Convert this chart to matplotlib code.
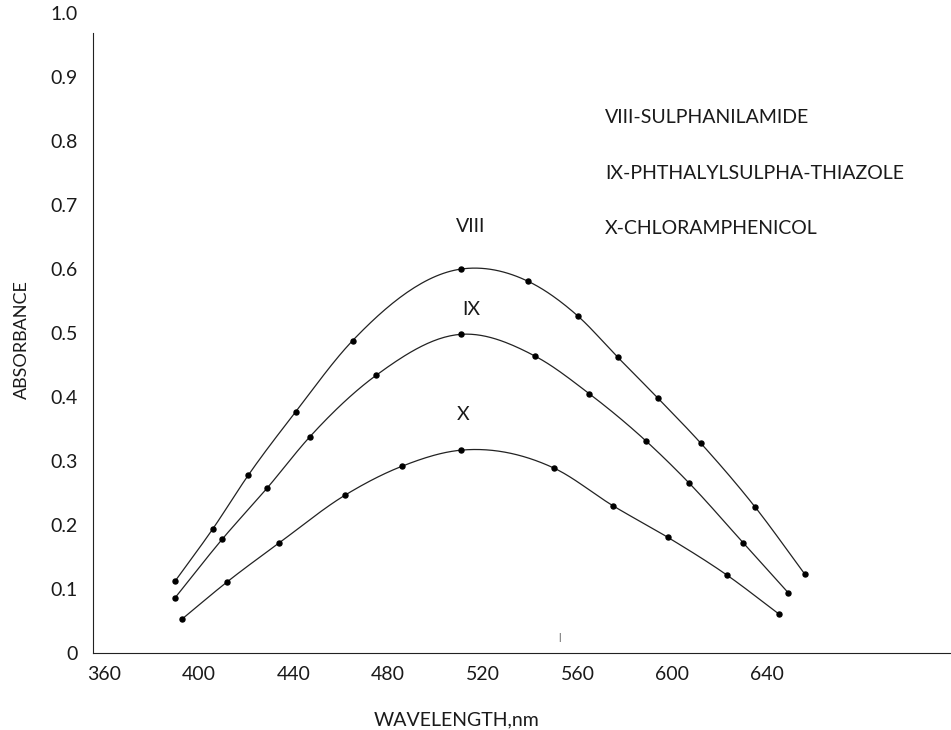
import numpy as np
import matplotlib
matplotlib.use("Agg")
import matplotlib.pyplot as plt

plt.rcParams['font.family'] = ['Lato', 'DejaVu Sans']

# wavelength (nm) and absorbance
wl_viii = [390, 406, 421, 441, 465, 511, 539, 560, 577, 594, 612, 635, 656]
abs_viii = [0.112, 0.194, 0.278, 0.377, 0.488, 0.600, 0.581, 0.527, 0.462, 0.398, 0.328, 0.228, 0.123]

wl_ix = [390, 410, 429, 447, 475, 511, 542, 565, 589, 607, 630, 649]
abs_ix = [0.086, 0.178, 0.258, 0.338, 0.434, 0.498, 0.464, 0.405, 0.331, 0.266, 0.172, 0.094]

wl_x = [393, 412, 434, 462, 486, 511, 550, 575, 598, 623, 645]
abs_x = [0.053, 0.111, 0.172, 0.247, 0.292, 0.317, 0.289, 0.230, 0.181, 0.122, 0.061]

xticks = [360, 400, 440, 480, 520, 560, 600, 640]
yticks = [0, 0.1, 0.2, 0.3, 0.4, 0.5, 0.6, 0.7, 0.8, 0.9, 1.0]
ytick_labels = ['0', '0.1', '0.2', '0.3', '0.4', '0.5', '0.6', '0.7', '0.8', '0.9', '1.0']

names = ['VIII-SULPHANILAMIDE', 'IX-PHTHALYLSULPHA-THIAZOLE', 'X-CHLORAMPHENICOL']

TXT = '#1a1a1a'


def smooth(x, y, n=30):
    """cubic hermite curve through the points (like a smoothed excel line)"""
    x = np.asarray(x, float)
    y = np.asarray(y, float)
    m = np.gradient(y, x)
    xs, ys = [], []
    for i in range(len(x) - 1):
        h = x[i + 1] - x[i]
        t = np.linspace(0, 1, n, endpoint=False)
        h00 = 2 * t**3 - 3 * t**2 + 1
        h10 = t**3 - 2 * t**2 + t
        h01 = -2 * t**3 + 3 * t**2
        h11 = t**3 - t**2
        xs.append(x[i] + t * h)
        ys.append(h00 * y[i] + h10 * h * m[i] + h01 * y[i + 1] + h11 * h * m[i + 1])
    xs.append([x[-1]])
    ys.append([y[-1]])
    return np.concatenate(xs), np.concatenate(ys)


fig = plt.figure(figsize=(9.51, 7.30), dpi=100)
ax = fig.add_axes([93 / 951, 77 / 730, 858 / 951, 640 / 730])

for wl, ab in [(wl_viii, abs_viii), (wl_ix, abs_ix), (wl_x, abs_x)]:
    sx, sy = smooth(wl, ab)
    ax.plot(sx, sy, color='#222222', lw=0.9)
    ax.plot(wl, ab, 'o', color='black', markersize=3.6)

ax.set_xlim(355.4, 717.7)
ax.set_ylim(0, 1.0)
ax.set_xticks(xticks)
ax.set_yticks(yticks)
ax.set_yticklabels(ytick_labels)
ax.tick_params(length=0, labelsize=14, colors=TXT)
ax.tick_params(axis='x', pad=9)
ax.tick_params(axis='y', pad=11)

for s in ['top', 'right']:
    ax.spines[s].set_visible(False)
ax.spines['left'].set_bounds(0, 0.969)
ax.spines['left'].set_color('#222222')
ax.spines['bottom'].set_color('#222222')

# curve labels
ax.text(515, 0.666, 'VIII', ha='center', va='center', fontsize=14, color=TXT)
ax.text(515, 0.536, 'IX', ha='center', va='center', fontsize=14, color=TXT)
ax.text(511.7, 0.372, 'X', ha='center', va='center', fontsize=14, color=TXT)

# key
for i, nm in enumerate(names):
    ax.text(571.6, 0.836 - 0.086 * i, nm, ha='left', va='center', fontsize=14, color=TXT)

ax.text(552.2, 0.025, '|', ha='center', va='center', fontsize=7, color=TXT)

fig.text(457 / 951, 1 - 720 / 730, 'WAVELENGTH,nm', ha='center', va='center', fontsize=14, color=TXT)
fig.text(22 / 951, 1 - 340 / 730, 'ABSORBANCE', ha='center', va='center', rotation=90, fontsize=13, color=TXT)

fig.savefig('out.png', dpi=100)
